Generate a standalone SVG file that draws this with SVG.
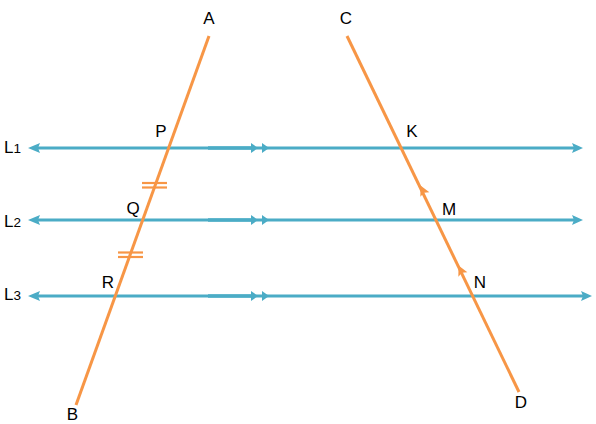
<svg xmlns="http://www.w3.org/2000/svg" width="596" height="424" viewBox="0 0 596 424">
<style>
.blue{stroke:#4BACC6;stroke-width:3;fill:none}
.bluef{fill:#4BACC6}
.orange{stroke:#F79646;stroke-width:3;fill:none;stroke-linecap:butt}
.oranget{stroke:#F79646;stroke-width:2.2}
.orangef{fill:#F79646}
text{font-family:"Liberation Sans",Arial,sans-serif;font-size:17px;fill:#000}
.sub{font-size:13.5px}
</style>
<defs>
<polygon id="ahL" points="0,0 12,-5 10,0 12,5" class="bluef"/>
<polygon id="ahR" points="0,0 -11,-5 -9,0 -11,5" class="bluef"/>
<polygon id="ahM" points="0,0 -7,-5 -7,5" class="bluef"/>
<polygon id="ahO" points="0,0 -10,-5 -8,0 -10,5" class="orangef"/>
</defs>
<rect width="596" height="424" fill="#fff"/>
<g id="connectors">
  <g id="L1-line">
    <line x1="34" y1="148" x2="576" y2="148" class="blue"/>
    <line x1="208" y1="148" x2="252" y2="148" stroke="#4BACC6" stroke-width="3.6"/>
    <use href="#ahL" x="28" y="148"/>
    <use href="#ahR" x="583" y="148"/>
    <use href="#ahM" x="258" y="148"/>
    <use href="#ahM" x="269" y="148"/>
  </g>
  <g id="L2-line">
    <line x1="34" y1="220" x2="576" y2="220" class="blue"/>
    <line x1="208" y1="220" x2="252" y2="220" stroke="#4BACC6" stroke-width="3.6"/>
    <use href="#ahL" x="28" y="220"/>
    <use href="#ahR" x="583" y="220"/>
    <use href="#ahM" x="258" y="220"/>
    <use href="#ahM" x="269" y="220"/>
  </g>
  <g id="L3-line">
    <line x1="34" y1="296" x2="585" y2="296" class="blue"/>
    <line x1="208" y1="296" x2="252" y2="296" stroke="#4BACC6" stroke-width="3.6"/>
    <use href="#ahL" x="28" y="296"/>
    <use href="#ahR" x="592" y="296"/>
    <use href="#ahM" x="258" y="296"/>
    <use href="#ahM" x="269" y="296"/>
  </g>
  <g id="AB-line">
    <line x1="209" y1="36" x2="76" y2="405" class="orange"/>
    <line x1="142" y1="183" x2="167" y2="183" class="oranget"/>
    <line x1="142" y1="187.5" x2="167" y2="187.5" class="oranget"/>
    <line x1="118" y1="252.5" x2="143" y2="252.5" class="oranget"/>
    <line x1="118" y1="257" x2="143" y2="257" class="oranget"/>
  </g>
  <g id="CD-line">
    <line x1="347" y1="36" x2="519" y2="392" class="orange"/>
    <use href="#ahO" transform="translate(420.5,185.5) rotate(-115.8)"/>
    <use href="#ahO" transform="translate(458.5,265.5) rotate(-115.8)"/>
  </g>
</g>
<g id="label-A"><text x="209" y="24" text-anchor="middle">A</text></g>
<g id="label-C"><text x="346" y="24" text-anchor="middle">C</text></g>
<g id="label-B"><text x="72.5" y="420" text-anchor="middle">B</text></g>
<g id="label-D"><text x="521" y="408" text-anchor="middle">D</text></g>
<g id="label-P"><text x="161" y="137" text-anchor="middle">P</text></g>
<g id="label-K"><text x="412" y="137" text-anchor="middle">K</text></g>
<g id="label-Q"><text x="133" y="214" text-anchor="middle">Q</text></g>
<g id="label-M"><text x="449" y="215" text-anchor="middle">M</text></g>
<g id="label-R"><text x="108" y="288" text-anchor="middle">R</text></g>
<g id="label-N"><text x="480" y="288" text-anchor="middle">N</text></g>
<g id="label-L1"><text x="4" y="153">L<tspan class="sub">1</tspan></text></g>
<g id="label-L2"><text x="4" y="227">L<tspan class="sub">2</tspan></text></g>
<g id="label-L3"><text x="4" y="300">L<tspan class="sub">3</tspan></text></g>
</svg>
